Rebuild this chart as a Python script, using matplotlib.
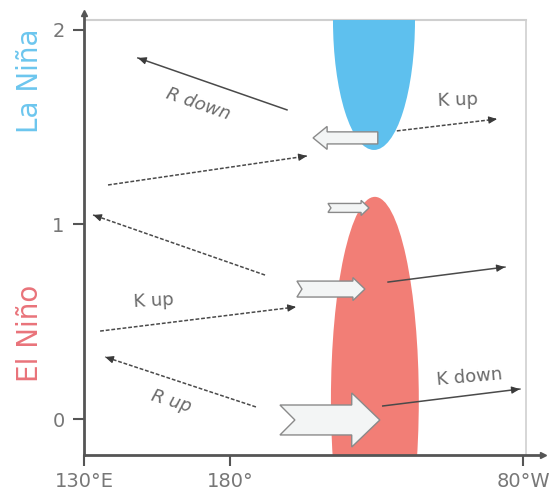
import matplotlib
matplotlib.use("Agg")
import matplotlib.pyplot as plt
from matplotlib.patches import Ellipse, Rectangle, Polygon
import numpy as np

# ---------------- data (longitude in deg E, y = index value) ----------------
x_ticks = [130, 180, 280]
x_tick_labels = ["130°E", "180°", "80°W"]
y_ticks = [0, 1, 2]
y_tick_labels = ["0", "1", "2"]

# anomaly blobs: centre x, centre y, full width (deg), full height
lanina_blob = [229.0, 2.051, 28.0, 1.336]
elnino_blob = [229.3, 0.098, 30.0, 2.088]

# thin wave arrows: start x, start y, end x, end y
wave_x0 = [199.3, 138.2, 236.8, 191.8, 135.5, 188.7, 233.8, 232.0]
wave_y0 = [1.589, 1.203, 1.481, 0.740, 0.452, 0.062, 0.704, 0.067]
wave_x1 = [148.4, 206.1, 271.0, 133.1, 202.4, 137.2, 273.7, 278.8]
wave_y1 = [1.856, 1.352, 1.542, 1.049, 0.576, 0.319, 0.781, 0.154]
wave_dashed = [False, True, True, True, True, True, False, False]

# block (wind) arrows: tail x, tip x, y
block_tail = [230.3, 213.3, 202.7, 196.9]
block_tip = [208.2, 227.3, 225.9, 231.0]
block_y = [1.445, 1.085, 0.668, -0.005]
block_body = [0.031, 0.023, 0.041, 0.077]   # half height
block_head = [0.059, 0.039, 0.059, 0.139]   # half height of head
block_hlen = [4.8, 2.7, 4.1, 9.6]           # head length (deg)
block_notch = [0.0, 1.0, 1.7, 5.1]          # tail notch depth (deg)

# labels
label_text = ["R down", "K up", "K up", "R up", "K down"]
label_x = [168.9, 257.6, 153.9, 159.7, 261.7]
label_y = [1.620, 1.640, 0.607, 0.093, 0.216]
label_rot = [-19, 2, 3, -17, 5]
label_style = ["italic", "normal", "normal", "italic", "normal"]

# ---------------- figure ----------------
plt.rcParams['font.family'] = ['DejaVu Sans']
fig = plt.figure(figsize=(5.52, 4.96), dpi=100)
ax = fig.add_axes([84/552, 41/496, 459/552, 442/496])
ax.set_xlim(130, 286.7)
ax.set_ylim(-0.185, 2.087)

axis_col = "#555555"
text_col = "#6a6a6a"

for s in ["top", "right"]:
    ax.spines[s].set_visible(False)
for s in ["left", "bottom"]:
    ax.spines[s].set_color(axis_col)
    ax.spines[s].set_linewidth(2.0)

# axis arrowheads
ax.plot([130], [2.087], marker="^", ms=5, color=axis_col, clip_on=False, zorder=5)
ax.plot([286.7], [-0.185], marker=">", ms=5, color=axis_col, clip_on=False, zorder=5)

# light frame
top_y = lanina_blob[1]
ax.plot([130, 281], [top_y, top_y], color="#cfcfcf", lw=1.5, zorder=0.5)
ax.plot([281, 281], [-0.185, top_y], color="#cfcfcf", lw=1.2, zorder=0.5)

ax.set_xticks(x_ticks)
ax.set_xticklabels(x_tick_labels)
ax.set_yticks(y_ticks)
ax.set_yticklabels(y_tick_labels)
ax.tick_params(axis="both", colors=axis_col, labelcolor="#777777", labelsize=14,
               width=1.5, length=8)
ax.tick_params(axis="x", pad=4)
ax.tick_params(axis="y", pad=6)

# blobs
clip = Rectangle((130, -0.185), 151, top_y + 0.185, transform=ax.transData,
                 facecolor="none", edgecolor="none")
ax.add_patch(clip)
e1 = Ellipse((lanina_blob[0], lanina_blob[1]), lanina_blob[2], lanina_blob[3],
             facecolor="#5ec0ee", edgecolor="none", zorder=1)
ax.add_patch(e1)
e1.set_clip_path(clip)
e2 = Ellipse((elnino_blob[0], elnino_blob[1]), elnino_blob[2], elnino_blob[3],
             facecolor="#f27e76", edgecolor="none", zorder=1)
ax.add_patch(e2)
e2.set_clip_path(clip)

# block arrows
for t, p, y, b, h, hl, n in zip(block_tail, block_tip, block_y, block_body,
                                block_head, block_hlen, block_notch):
    d = np.sign(p - t)
    hb = p - d * hl
    pts = [(t, y + b), (hb, y + b), (hb, y + h), (p, y), (hb, y - h),
           (hb, y - b), (t, y - b), (t + d * n, y)]
    ax.add_patch(Polygon(pts, closed=True, facecolor="#f3f5f5",
                         edgecolor="#8a8a8a", lw=1.0, zorder=3))

# thin wave arrows
for x0, y0, x1, y1, dsh in zip(wave_x0, wave_y0, wave_x1, wave_y1, wave_dashed):
    ls = (0, (2.5, 1.2)) if dsh else "-"
    ax.plot([x0, x1], [y0, y1], color="#4a4a4a", lw=1.1, ls=ls, zorder=4)
    ax.annotate("", xy=(x1, y1), xytext=(x0 + 0.97 * (x1 - x0), y0 + 0.97 * (y1 - y0)),
                arrowprops=dict(arrowstyle="-|>,head_length=0.5,head_width=0.22",
                                color="#3a3a3a", lw=0.8, shrinkA=0, shrinkB=0),
                zorder=4)

for txt, x, y, r, st in zip(label_text, label_x, label_y, label_rot, label_style):
    ax.text(x, y, txt, rotation=r, style=st, color=text_col, fontsize=13,
            ha="center", va="center", rotation_mode="anchor", zorder=5)

fig.text(30/552, 1 - 81/496, "La Niña", rotation=90, color="#6cc6ee",
         fontsize=20, ha="center", va="center")
fig.text(30/552, 1 - 333/496, "El Niño", rotation=90, color="#e9737a",
         fontsize=20, ha="center", va="center")

fig.savefig("out.png", dpi=100, facecolor="white")
